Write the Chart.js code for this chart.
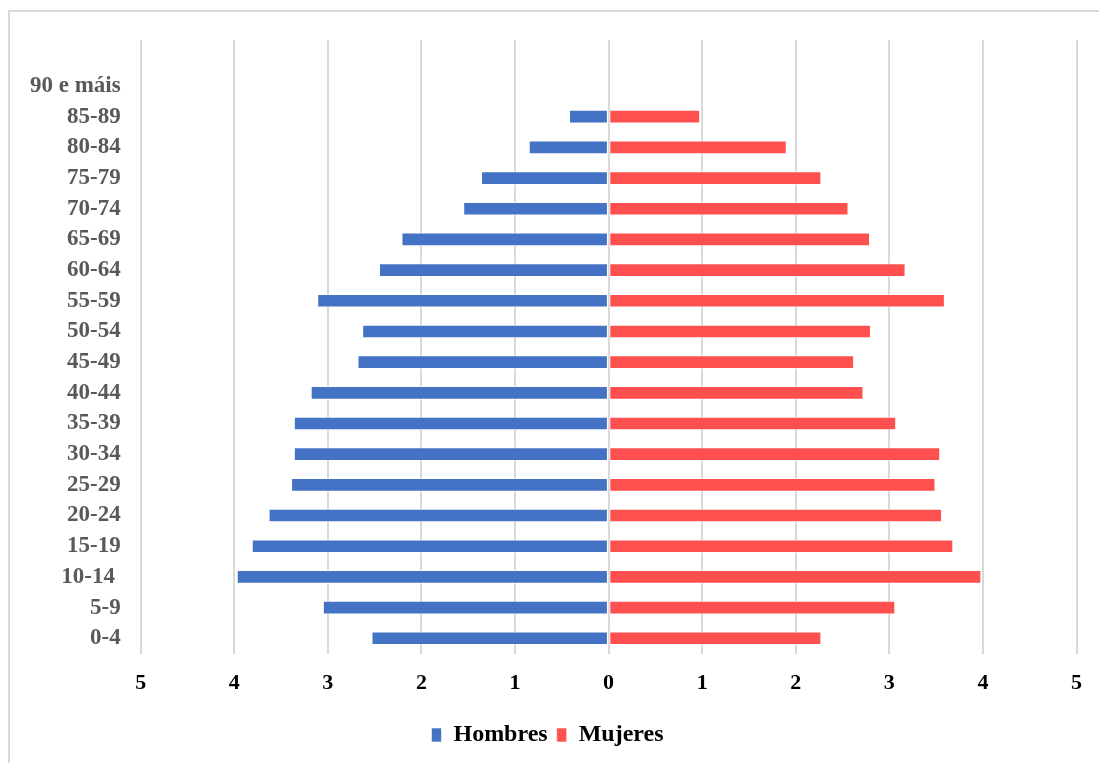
<!DOCTYPE html>
<html lang="gl">
<head>
  <meta charset="UTF-8">
  <title>Pirámide de poboación</title>
  <script src="https://cdn.jsdelivr.net/npm/chart.js"></script>
  <style>
    body {
      margin: 0;
      background: #fff;
    }
    #frame {
      position: absolute;
      left: 8px;
      top: 10px;
      width: 1100px;
      height: 760px;
      border: 2px solid #d9d9d9;
    }
    #wrap {
      position: absolute;
      left: 0;
      top: 0;
      width: 1099px;
      height: 763px;
    }
  </style>
</head>
<body>
  <div id="frame"></div>
  <div id="wrap">
    <canvas id="pyramid"></canvas>
  </div>

  <script>
    // idades de arriba a abaixo (a primeira fila vai baleira, coma no orixinal)
    const grupos = ['', '90 e máis', '85-89', '80-84', '75-79', '70-74', '65-69', '60-64',
      '55-59', '50-54', '45-49', '40-44', '35-39', '30-34', '25-29', '20-24',
      '15-19', '10-14 ', '5-9', '0-4'];

    const hombres = [null, 0, 0.42, 0.85, 1.36, 1.55, 2.21, 2.45,
      3.11, 2.63, 2.68, 3.18, 3.36, 3.36, 3.39, 3.63,
      3.81, 3.97, 3.05, 2.53];

    const mujeres = [null, 0, 0.975, 1.90, 2.27, 2.56, 2.79, 3.17,
      3.59, 2.80, 2.62, 2.72, 3.07, 3.54, 3.49, 3.56,
      3.68, 3.98, 3.06, 2.27];

    const xTicks = [-5, -4, -3, -2, -1, 0, 1, 2, 3, 4, 5];

    const serif = '"Liberation Serif", "Times New Roman", serif';

    const ctx = document.getElementById('pyramid').getContext('2d');
    new Chart(ctx, {
      type: 'bar',
      data: {
        labels: grupos,
        datasets: [
          {
            label: 'Hombres',
            data: hombres.map(v => v == null ? null : -v),
            backgroundColor: '#4472c4',
            borderColor: 'rgba(255,255,255,0.6)',
            borderWidth: 1,
            borderSkipped: false,
            barThickness: 13
          },
          {
            label: 'Mujeres',
            data: mujeres,
            backgroundColor: '#ff5050',
            borderColor: 'rgba(255,255,255,0.6)',
            borderWidth: 1,
            borderSkipped: false,
            barThickness: 13
          }
        ]
      },
      options: {
        indexAxis: 'y',
        responsive: true,
        maintainAspectRatio: false,
        animation: false,
        layout: {
          padding: { left: 10, right: 14, top: 40, bottom: 6 }
        },
        scales: {
          x: {
            stacked: true,
            min: -5,
            max: 5,
            afterBuildTicks: axis => { axis.ticks = xTicks.map(v => ({ value: v })); },
            grid: { color: '#d9d9d9', lineWidth: 2, drawTicks: false },
            border: { display: false },
            ticks: {
              padding: 17,
              color: '#000',
              font: { family: serif, size: 22, weight: 'bold' },
              callback: v => Math.abs(v)
            }
          },
          y: {
            stacked: true,
            grid: { display: false, drawTicks: false },
            border: { display: false },
            ticks: {
              padding: 20,
              color: '#595959',
              autoSkip: false,
              font: { family: serif, size: 23, weight: 'bold' }
            }
          }
        },
        plugins: {
          legend: {
            position: 'bottom',
            labels: {
              boxWidth: 10,
              boxHeight: 14,
              padding: 9,
              color: '#000',
              font: { family: serif, size: 24, weight: 'bold' }
            }
          },
          tooltip: { enabled: false }
        }
      }
    });
  </script>
</body>
</html>
